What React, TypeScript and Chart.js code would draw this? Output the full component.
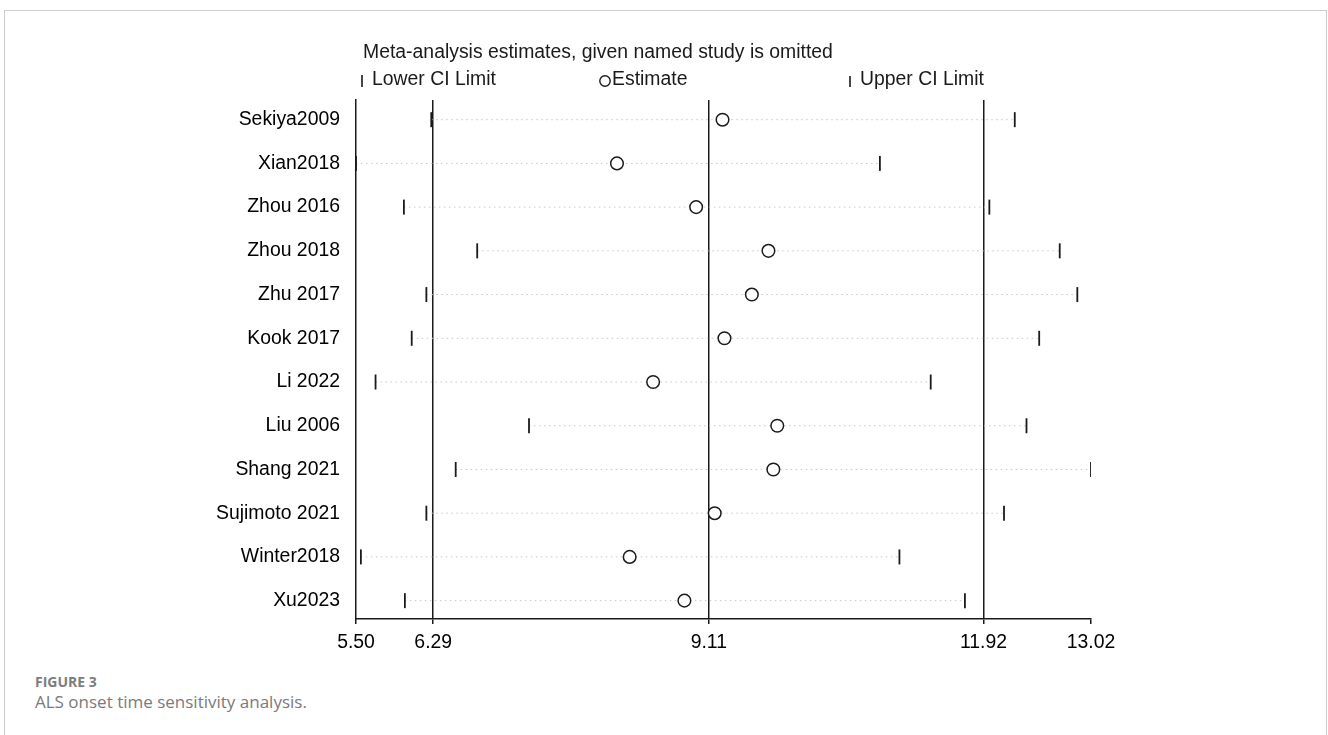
import React, { useEffect, useRef } from "react";
import { Chart, registerables } from "chart.js";

Chart.register(...registerables);

// Leave-one-out sensitivity analysis: pooled estimate and CI when each study is omitted
const studies = [
  "Sekiya2009",
  "Xian2018",
  "Zhou 2016",
  "Zhou 2018",
  "Zhu 2017",
  "Kook 2017",
  "Li 2022",
  "Liu 2006",
  "Shang 2021",
  "Sujimoto 2021",
  "Winter2018",
  "Xu2023",
];
const lowerCI = [6.27, 5.5, 5.99, 6.74, 6.22, 6.07, 5.7, 7.27, 6.52, 6.22, 5.55, 6.0];
const estimates = [9.25, 8.17, 8.98, 9.72, 9.55, 9.27, 8.54, 9.81, 9.77, 9.17, 8.3, 8.86];
const upperCI = [12.24, 10.86, 11.98, 12.7, 12.88, 12.49, 11.38, 12.36, 13.02, 12.13, 11.06, 11.73];

// Axis ticks; the inner three are the overall lower limit, estimate and upper limit
const xTicks = [5.5, 6.29, 9.11, 11.92, 13.02];
const referenceLines = [6.29, 9.11, 11.92];

const titleText = "Meta-analysis estimates, given named study is omitted";
const legendLabels = ["Lower CI Limit", "Estimate", "Upper CI Limit"];

const INK = "#1a1a1a";
const FONT = '"Liberation Sans", Arial, sans-serif';
const FONT_SIZE = 19.4;

const headerPlugin = {
  id: "header",
  afterDraw(chart: any) {
    const { ctx, chartArea } = chart;
    const third = (chartArea.right - chartArea.left) / 3;
    ctx.save();
    ctx.fillStyle = INK;
    ctx.strokeStyle = INK;
    ctx.font = `${FONT_SIZE}px ${FONT}`;
    ctx.textBaseline = "middle";
    ctx.textAlign = "left";
    ctx.fillText(titleText, chartArea.left + 7, 53);

    const ly = 80;
    // lower limit marker
    const x0 = chartArea.left + 6;
    ctx.lineWidth = 1.6;
    ctx.beginPath();
    ctx.moveTo(x0, ly - 5);
    ctx.lineTo(x0, ly + 7);
    ctx.stroke();
    ctx.fillText(legendLabels[0], x0 + 10, ly);

    // estimate marker
    const x1 = chartArea.left + third + 4;
    ctx.lineWidth = 1.4;
    ctx.beginPath();
    ctx.arc(x1, ly + 1, 5.2, 0, Math.PI * 2);
    ctx.stroke();
    ctx.fillText(legendLabels[1], x1 + 7, ly);

    // upper limit marker
    const x2 = chartArea.left + 2 * third + 4;
    ctx.lineWidth = 1.6;
    ctx.beginPath();
    ctx.moveTo(x2, ly - 4);
    ctx.lineTo(x2, ly + 7);
    ctx.stroke();
    ctx.fillText(legendLabels[2], x2 + 10, ly);
    ctx.restore();
  },
};

export default function App() {
  const canvasRef = useRef<HTMLCanvasElement | null>(null);

  useEffect(() => {
    if (!canvasRef.current) return;

    const rows = studies.map((_, i) => i + 1);

    const ciLines = studies.map((name, i) => ({
      type: "line" as const,
      label: name,
      data: [
        { x: lowerCI[i], y: rows[i] },
        { x: upperCI[i], y: rows[i] },
      ],
      borderColor: "#c8c8c8",
      borderWidth: 1,
      borderDash: [1.5, 3.5],
      pointRadius: 0,
      order: 3,
    }));

    const chart = new Chart(canvasRef.current, {
      type: "scatter",
      data: {
        datasets: [
          ...ciLines,
          {
            label: legendLabels[0],
            data: lowerCI.map((v, i) => ({ x: v, y: rows[i] })),
            pointStyle: "line",
            rotation: 90,
            pointRadius: 7.5,
            borderColor: INK,
            borderWidth: 1.8,
            order: 1,
          },
          {
            label: legendLabels[2],
            data: upperCI.map((v, i) => ({ x: v, y: rows[i] })),
            pointStyle: "line",
            rotation: 90,
            pointRadius: 7.5,
            borderColor: INK,
            borderWidth: 1.8,
            order: 1,
          },
          {
            label: legendLabels[1],
            data: estimates.map((v, i) => ({ x: v, y: rows[i] })),
            pointStyle: "circle",
            pointRadius: 6.3,
            borderColor: INK,
            backgroundColor: "#ffffff",
            borderWidth: 1.5,
            order: 0,
          },
        ] as any,
      },
      options: {
        responsive: false,
        animation: false,
        devicePixelRatio: 1,
        layout: { padding: { top: 100, left: 0, right: 237, bottom: 0 } },
        plugins: {
          legend: { display: false },
          title: { display: false },
          tooltip: { enabled: false },
        },
        scales: {
          x: {
            type: "linear",
            min: xTicks[0],
            max: xTicks[xTicks.length - 1],
            afterBuildTicks: (axis: any) => {
              axis.ticks = xTicks.map((v) => ({ value: v }));
            },
            afterFit: (axis: any) => {
              axis.height = 46;
            },
            ticks: {
              autoSkip: false,
              maxRotation: 0,
              padding: 7,
              color: "#000",
              font: { family: FONT, size: FONT_SIZE },
              callback: (v: any) => Number(v).toFixed(2),
            },
            grid: {
              color: (c: any) =>
                c.tick && referenceLines.includes(c.tick.value) ? INK : "rgba(0,0,0,0)",
              lineWidth: 1.5,
              tickColor: INK,
              tickLength: 5,
              tickWidth: 1.5,
            },
            border: { display: true, color: INK, width: 1.5 },
          },
          y: {
            type: "linear",
            reverse: true,
            min: 0.55,
            max: 12.42,
            afterBuildTicks: (axis: any) => {
              axis.ticks = rows.map((v) => ({ value: v }));
            },
            afterFit: (axis: any) => {
              axis.width = 356;
            },
            ticks: {
              autoSkip: false,
              padding: 16,
              color: "#000",
              font: { family: FONT, size: FONT_SIZE },
              callback: (v: any) => studies[Number(v) - 1] ?? "",
            },
            grid: { display: false, drawTicks: false },
            border: { display: true, color: INK, width: 1.5 },
          },
        },
      },
      plugins: [headerPlugin],
    });

    return () => chart.destroy();
  }, []);

  return (
    <div
      style={{
        position: "fixed",
        left: 0,
        top: 0,
        width: 1328,
        height: 735,
        overflow: "hidden",
        background: "#ffffff",
      }}
    >
      <div
        style={{
          position: "absolute",
          left: 4,
          top: 10,
          width: 1323,
          height: 760,
          border: "1px solid #cdcdcd",
          boxSizing: "border-box",
        }}
      />
      <canvas
        ref={canvasRef}
        width={1328}
        height={665}
        style={{ position: "absolute", left: 0, top: 0, width: 1328, height: 665 }}
      />
      <div
        style={{
          position: "absolute",
          left: 35,
          top: 672,
          fontFamily: '"Open Sans", sans-serif',
          fontWeight: 700,
          fontSize: 14,
          lineHeight: "20px",
          color: "#7d7d7d",
        }}
      >
        FIGURE 3
      </div>
      <div
        style={{
          position: "absolute",
          left: 35,
          top: 690,
          fontFamily: '"Open Sans", sans-serif',
          fontWeight: 400,
          fontSize: 17,
          lineHeight: "24px",
          color: "#7a7a7a",
        }}
      >
        ALS onset time sensitivity analysis.
      </div>
    </div>
  );
}
